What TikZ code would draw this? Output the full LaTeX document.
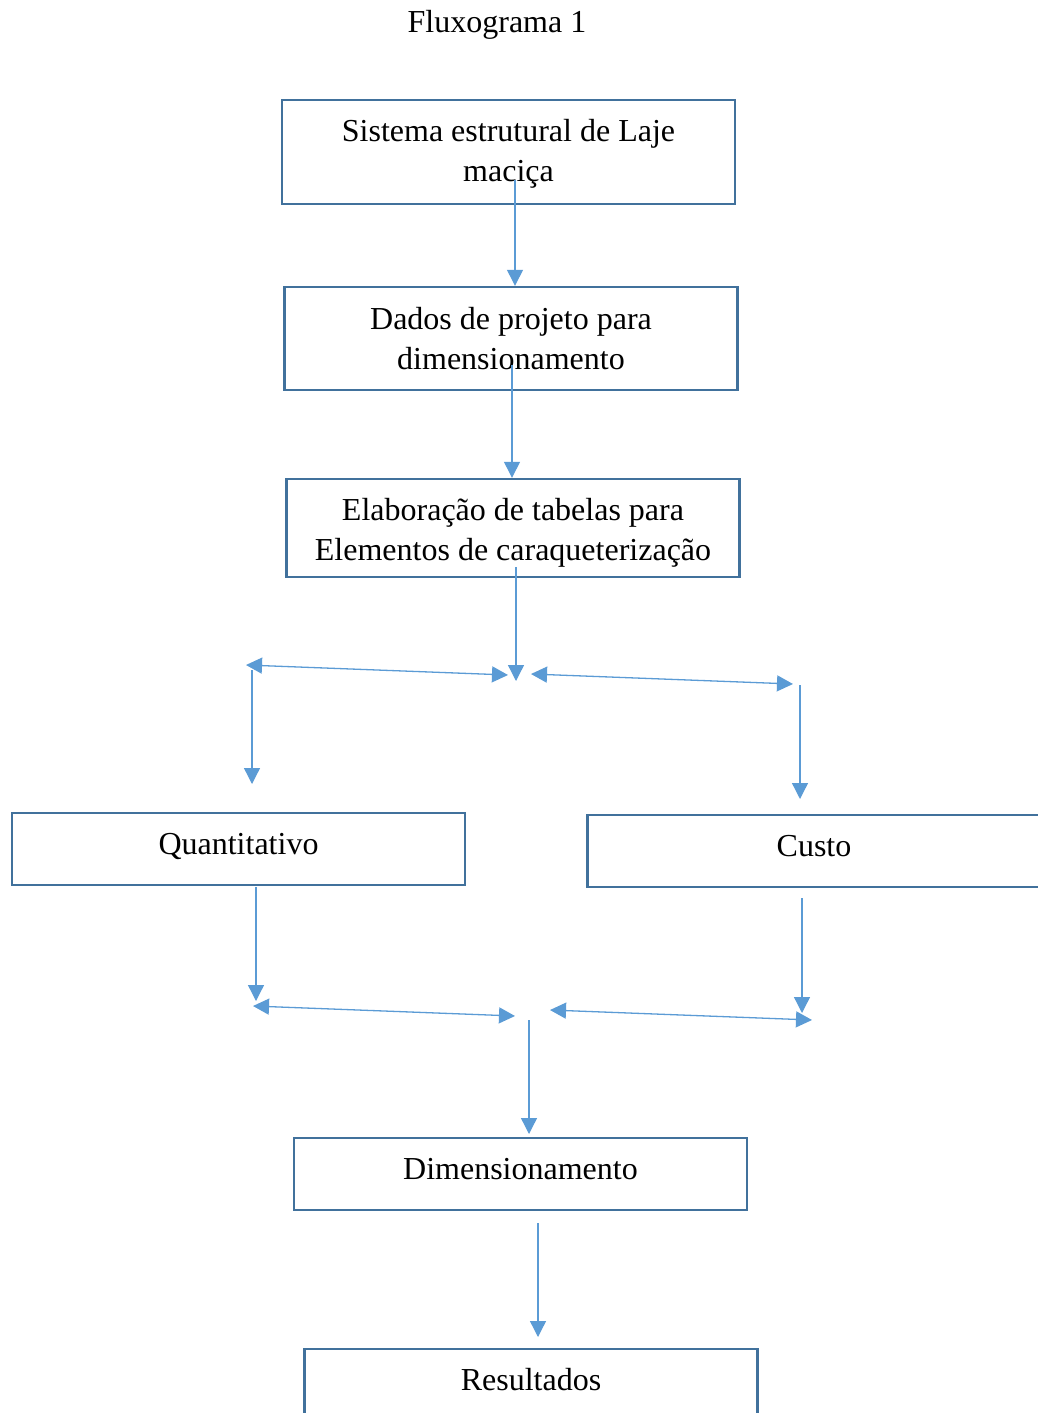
\documentclass[tikz,border=0pt]{standalone}
\usepackage{fontspec}
\setmainfont{Liberation Serif}
\usetikzlibrary{arrows.meta}
\definecolor{boxblue}{HTML}{41719C}
\definecolor{arrblue}{HTML}{5B9BD5}
\begin{document}
\begin{tikzpicture}[x=1pt,y=-1pt,
  box/.style={draw=boxblue,line width=2.4pt,minimum width=453pt,align=center,inner sep=0pt,
    font=\fontsize{32}{40}\selectfont},
  onebox/.style={box,minimum height=72pt,text height=22pt,text depth=12pt},
  conn/.style={draw=arrblue,line width=1.3pt,-{Triangle[length=16pt,width=16pt]}},
  dconn/.style={draw=arrblue,line width=1.3pt,{Triangle[length=16pt,width=16pt]}-{Triangle[length=16pt,width=16pt]}}]
\useasboundingbox (0,0) rectangle (1038,1413);
\clip (0,0) rectangle (1038,1413);
\node[font=\fontsize{32}{40}\selectfont] (title) at (497,25) {Fluxograma 1};
\node[box,minimum height=104pt,text height=65pt] (b1) at (508.5,152) {Sistema estrutural de Laje\\maciça};
\node[box,minimum height=103pt] (b2) at (511,338.5) {Dados de projeto para\\dimensionamento};
\node[box,minimum height=98pt,text height=71pt] (b3) at (513,528) {Elaboração de tabelas para\\Elementos de caraqueterização};
\node[onebox] (b4) at (238.5,849) {Quantitativo};
\node[onebox] (b5) at (814,851) {Custo};
\node[onebox] (b6) at (520.5,1174) {Dimensionamento};
\node[onebox] (b7) at (531,1385) {Resultados};
% coordinates
\coordinate (s1) at (515,180);
\coordinate (s2) at (512,365);
\coordinate (s3) at (516,567);
\coordinate (j1) at (516,681);
\coordinate (l1a) at (246,665);
\coordinate (l1b) at (508,675);
\coordinate (r1a) at (531,674);
\coordinate (r1b) at (793,684);
\coordinate (vl1) at (252,670);
\coordinate (vl1e) at (252,784);
\coordinate (vr1) at (800,685);
\coordinate (vr1e) at (800,799);
\coordinate (q1) at (256,887);
\coordinate (q1e) at (256,1001);
\coordinate (c1) at (802,898);
\coordinate (c1e) at (802,1013);
\coordinate (l2a) at (253,1006);
\coordinate (l2b) at (515,1016);
\coordinate (r2a) at (550,1010);
\coordinate (r2b) at (812,1020);
\coordinate (m1) at (529,1020);
\coordinate (m1e) at (529,1134);
\coordinate (d1) at (538,1223);
\coordinate (d1e) at (538,1337);
% connectors
\draw[conn] (s1) -- (b2.north -| s1);
\draw[conn] (s2) -- (b3.north -| s2);
\draw[conn] (s3) -- (j1);
\draw[dconn] (l1a) -- (l1b);
\draw[dconn] (r1a) -- (r1b);
\draw[conn] (vl1) -- (vl1e);
\draw[conn] (vr1) -- (vr1e);
\draw[conn] (q1) -- (q1e);
\draw[conn] (c1) -- (c1e);
\draw[dconn] (l2a) -- (l2b);
\draw[dconn] (r2a) -- (r2b);
\draw[conn] (m1) -- (m1e);
\draw[conn] (d1) -- (d1e);
\end{tikzpicture}
\end{document}
